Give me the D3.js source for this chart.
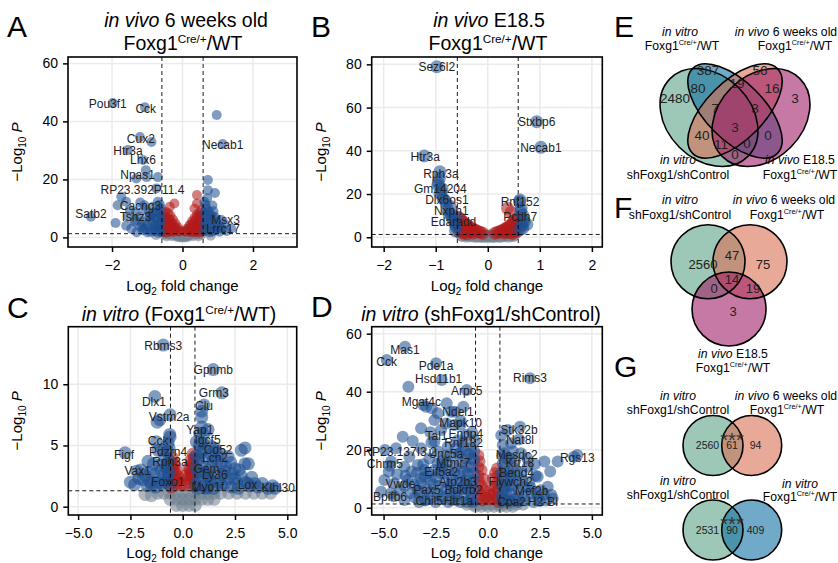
<!DOCTYPE html>
<html>
<head>
<meta charset="utf-8">
<script src="https://cdn.jsdelivr.net/npm/d3@7"></script>
<style>
body { margin: 0; background: #fff; }
text { font-family: "Liberation Sans", Arial, Helvetica, sans-serif; }
</style>
</head>
<body>
<script>
"use strict";
// cutoffs used by the volcano plots
const fcCut = 0.585, pCut = 1.3;

// ---- panel A: in vivo 6 weeks old ----
const aXTicks = [-2, 0, 2], aYTicks = [0, 20, 40, 60];
const aGenes = [["Pou3f1",-1.98,46.3],["Cck",-1.07,44.9],["Cux2",-1.21,34.6],["Htr3a",-1.55,30.1],["Necab1",1.14,32.2],["Lhx6",-1.12,26.7],["Npas1",-1.02,20.8],["RP23.392P11.4",-0.74,16.9],["Cacng3",-1.08,11.1],["Satb2",-2.6,7.1],["Tshz3",-0.94,7.1],["Msx3",0.91,7.1],["Lrrc17",1.09,3.2]];
const aPts = [
 [-0.55,1.0],[-0.47,0.9],[-0.40,1.1],[-0.33,1.0],[-0.26,0.9],[-0.20,0.7],[-0.14,0.5],[-0.08,0.3],[0.00,0.1],[0.08,0.3],[0.14,0.5],[0.20,0.7],[0.26,0.9],[0.33,1.0],[0.40,1.1],[0.47,0.9],[0.55,1.0],[-0.45,0.3],[-0.30,0.4],[-0.15,0.1],[0.15,0.1],[0.30,0.4],[0.45,0.3],[-0.05,0.0],[0.05,0.0],[-0.75,0.8],[0.80,0.6],
 [-0.36,10.6],[-0.23,11.7],[0.41,14.6],[0.41,11.7],[0.34,10.0],
 [-0.55,8.5],[-0.48,8.8],[-0.41,8.3],[-0.34,7.5],[-0.27,6.2],[-0.20,4.8],[-0.13,3.5],[-0.07,2.3],[-0.55,6.0],[-0.48,5.5],[-0.41,5.0],[-0.34,4.5],[-0.27,3.5],[-0.20,2.5],[-0.55,3.5],[-0.48,2.8],[-0.41,2.2],[-0.34,2.0],[-0.55,1.8],[-0.45,1.6],
 [-0.50,7.0],[-0.42,6.6],[-0.36,6.0],[-0.30,5.0],[-0.24,4.0],[-0.16,3.0],[-0.10,2.0],[-0.50,4.2],[-0.44,3.5],[-0.38,3.0],[-0.30,2.6],[-0.24,2.0],
 [0.55,9.5],[0.48,8.6],[0.41,7.8],[0.34,6.8],[0.27,5.6],[0.20,4.3],[0.13,3.1],[0.07,2.1],[0.55,6.5],[0.48,5.7],[0.41,4.8],[0.34,3.8],[0.27,2.8],[0.20,2.1],[0.55,3.5],[0.48,2.8],[0.41,2.2],[0.34,1.8],[0.55,1.8],[0.45,1.6],
 [0.50,7.5],[0.44,7.0],[0.38,6.2],[0.30,5.0],[0.24,4.0],[0.16,3.0],[0.10,2.0],[0.50,4.5],[0.44,3.8],[0.38,3.0],[0.30,2.4],[0.24,1.8],
 [0.97,42.2],[-0.88,32.9],[-1.04,23.2],[-0.70,20.8],[0.72,19.8],[0.72,16.3],[0.92,15.3],[-1.31,20.3],[-1.74,14.0],[-1.84,11.1],[-1.60,12.3],[-1.32,8.8],[-0.84,10.6],[-0.70,12.3],[-0.70,8.8],[-0.89,6.0],[-1.13,5.4],[-1.36,5.4],[-1.08,3.1],[-0.80,3.1],[-0.65,4.8],[-0.65,2.5],[-0.89,1.9],[-0.61,7.1],[-0.76,6.6],[-1.55,7.1],[-1.22,7.1],[-1.12,2.5],[-1.35,6.0],[-0.62,10.0],[-0.62,5.5],[-0.62,2.0],[-0.75,9.0],[-0.78,4.0],[-0.95,8.5],[-1.00,4.5],[-1.20,3.5],[-1.45,3.0],[-1.00,1.8],[-1.30,1.8],[-0.70,1.6],[-1.60,4.0],[-1.90,5.0],[-1.50,9.5],[-1.20,12.0],
 [-0.68,3.5],[-0.72,6.0],[-0.66,8.0],[-0.82,8.0],[-0.86,5.0],[-0.94,3.0],[-0.70,4.2],[-0.80,2.2],[-1.15,4.2],[-0.92,7.2],[-1.05,9.6],[-0.64,11.3],
 [0.67,10.0],[0.67,6.6],[0.81,7.7],[0.95,5.4],[0.72,3.7],[0.91,2.5],[1.19,4.8],[1.38,3.1],[0.62,12.3],[0.62,8.5],[0.62,5.0],[0.62,2.2],[0.75,9.0],[0.78,4.5],[0.85,2.0],[1.00,3.5],[1.05,2.0],[1.25,2.2],[0.70,13.5],[0.85,11.0],
 [0.68,2.8],[0.70,5.2],[0.72,8.0],[0.80,6.2],[0.84,3.3],[0.88,9.0],[0.95,4.0],[0.66,11.2],[0.76,1.8],[1.12,3.0],[0.90,6.5],[1.10,6.0]
];

// ---- panel B: in vivo E18.5 ----
const bXTicks = [-2, -1, 0, 1, 2], bYTicks = [0, 20, 40, 60, 80];
const bGenes = [["Sez6l2",-0.98,78.9],["Stxbp6",0.94,53.5],["Necab1",1.02,41.6],["Htr3a",-1.22,37.6],["Rph3a",-0.92,30.3],["Gm14204",-0.95,25.2],["Dlx6os1",-0.92,20.3],["Nxph1",-0.72,14.2],["Edaradd",-0.60,9.5],["Rnf152",0.62,17.2],["Pcdh7",0.68,8.0]];
const bPts = [
 [-0.44,1.2],[-0.36,1.0],[-0.28,0.9],[-0.20,0.8],[-0.12,0.7],[-0.04,0.7],[0.04,0.7],[0.12,0.7],[0.20,0.8],[0.28,0.9],[0.36,1.0],[0.44,1.2],[-0.40,0.5],[-0.24,0.4],[-0.08,0.3],[0.08,0.3],[0.24,0.4],[0.40,0.5],[0.50,1.1],[-0.50,1.1],
 [-0.32,0.7],[-0.16,0.5],[0.00,0.5],[0.16,0.5],[0.32,0.7],[-0.48,0.8],[0.48,0.8],
 [-0.55,9.0],[-0.50,7.5],[-0.42,6.0],[-0.34,4.6],[-0.26,3.5],[-0.18,2.6],[-0.10,1.9],[-0.55,5.5],[-0.48,4.2],[-0.40,3.2],[-0.32,2.4],[-0.55,2.5],[-0.47,2.0],[-0.40,1.6],
 [-0.52,8.3],[-0.46,6.8],[-0.38,5.3],[-0.30,4.0],[-0.22,3.0],[-0.14,2.2],[-0.52,4.8],[-0.44,3.6],[-0.36,2.8],[-0.28,2.0],[-0.50,3.2],[-0.44,2.4],
 [0.55,8.5],[0.50,7.0],[0.44,5.5],[0.37,4.3],[0.30,3.3],[0.22,2.5],[0.14,1.9],[0.55,5.0],[0.48,3.8],[0.40,2.8],[0.32,2.0],[0.55,2.5],[0.48,1.8],[0.38,13.4],[0.45,11.5],
 [0.52,7.8],[0.47,6.2],[0.40,4.9],[0.33,3.8],[0.26,2.9],[0.18,2.2],[0.52,4.4],[0.44,3.3],[0.36,2.4],[0.50,3.2],[0.44,2.2],
 [-0.93,27.3],[-0.96,24.2],[-0.90,21.1],[-0.86,18.0],[-0.80,15.7],[-0.77,12.6],[-0.70,10.3],[-0.64,7.2],[-0.61,4.9],[-0.88,22.5],[-0.82,17.0],[-0.75,11.0],[-0.68,8.5],[-0.62,6.0],[-0.62,3.0],
 [0.61,16.5],[0.64,13.4],[0.67,10.3],[0.70,7.2],[0.67,4.2],[0.61,3.4],[0.63,11.8],[0.66,5.5],[0.75,6.0]
];

// ---- panel C: in vitro Foxg1 Cre/+ vs WT ----
const cXTicks = [-5, -2.5, 0, 2.5, 5], cYTicks = [0, 5, 10];
const cGenes = [["Rbms3",-0.93,13.2],["Gpnmb",1.46,11.2],["Grm3",1.87,9.3],["Dlx1",-1.33,9.0],["Clu",1.02,8.3],["Vstm2a",-0.60,7.5],["Yap1",0.91,6.5],["Cck",-0.60,5.7],["Igcf5",0.95,5.2],["Figf",-2.76,4.4],["Pdzrn4",-0.70,4.5],["Cd52",1.60,4.5],["Lcn2",1.45,3.8],["Rph3a",-0.75,3.5],["Vax1",-2.20,2.9],["Gem",1.00,2.8],["Ly86",1.30,2.2],["Foxo1",-1.00,1.9],["Myo1f",1.20,1.6],["Lox",3.10,1.9],["Klhl30",4.42,1.5]];
const cPts = [
 [-1.2,1.1],[-0.9,1.1],[-0.6,1.1],[-0.3,1.1],[0,1.1],[0.3,1.1],[0.6,1.1],[0.9,1.1],[1.2,1.1],[1.5,1.1],[1.8,1.1],[2.2,1.1],[2.6,1.1],[3.0,1.1],[3.4,1.1],[3.8,1.1],[4.2,1.1],
 [-0.6,0.6],[-0.3,0.6],[0,0.6],[0.3,0.6],[0.6,0.6],[0.9,0.6],[1.2,0.6],[1.5,0.6],[-0.3,0.1],[0,0.1],[0.3,0.1],[0.6,0.1],[-1.5,0.9],[-1.8,1.0],
 [-0.50,4.0],[-0.40,3.5],[-0.30,3.0],[-0.20,2.4],[-0.50,3.0],[-0.40,2.4],[-0.50,2.0],[-0.30,1.9],[-0.55,1.6],[-0.10,1.8],
 [0.50,4.3],[0.40,3.8],[0.30,3.2],[0.20,2.6],[0.50,3.3],[0.40,2.7],[0.50,2.3],[0.30,2.0],[0.55,1.7],[0.10,1.8],
 [-0.45,3.2],[-0.35,2.7],[-0.25,2.1],[-0.45,2.2],[0.45,3.5],[0.35,3.0],[0.25,2.3],[0.45,2.5],[-0.55,3.6],[0.55,4.0],
 [-1.09,7.1],[0.91,7.8],[0.91,7.3],[1.00,5.9],[-1.22,6.9],[-0.62,5.9],[-1.26,5.3],[0.65,5.3],[1.21,6.3],[2.80,4.6],[2.97,3.5],[1.85,3.5],[2.00,2.9],[2.49,2.3],[3.44,1.9],[4.08,1.5],[-1.66,3.7],[-1.90,2.2],[-1.50,1.8],[-1.18,4.6],[-1.02,3.0],[-0.70,2.6],[-0.86,4.0],[0.89,4.4],[0.89,3.3],[0.73,2.2],[1.37,2.0],[1.85,1.8],[2.33,1.6],[2.65,1.5],[2.49,3.1],[2.17,4.1],[1.53,4.8],[0.81,6.0],[2.98,4.8],[3.14,3.5],
 [-0.65,4.8],[-0.65,3.8],[-0.65,2.8],[-0.65,1.8],[-0.85,2.0],[-1.20,2.0],[-1.35,2.6],[-1.55,2.8],[-2.00,3.0],[-1.70,1.7],[-2.30,1.8],
 [-0.75,2.2],[-0.95,2.5],[-1.10,3.4],[-1.40,3.5],[-1.30,1.6],[-1.80,2.6],[-2.10,2.3],[-0.80,3.2],[-0.95,4.6],[-0.70,5.2],[-1.55,2.0],[-2.50,2.0],
 [0.65,4.2],[0.65,3.2],[0.65,1.8],[0.80,5.0],[1.10,4.0],[1.20,3.0],[1.60,2.7],[1.05,1.8],[1.50,1.5],[2.20,2.3],[2.80,2.5],[3.30,2.4],[3.60,1.6],[1.90,2.6],[2.60,1.9],[1.30,5.0],[1.80,4.3],[2.30,3.6],
 [0.75,2.8],[0.95,2.5],[1.25,2.5],[1.40,3.3],[1.70,2.0],[2.00,1.9],[2.35,2.7],[2.70,3.0],[3.00,2.0],[3.20,1.7],[0.75,3.8],[1.00,4.7],[1.35,4.3],[1.65,3.8],[2.05,3.3],[3.80,1.9],[4.30,1.7],[0.70,1.5],[1.15,1.5]
];

// ---- panel D: in vitro shFoxg1 vs shControl ----
const dXTicks = [-5, -2.5, 0, 2.5, 5], dYTicks = [0, 20, 40, 60];
const dGenes = [["Mas1",-3.97,55.5],["Cck",-4.85,50.9],["Pde1a",-2.48,49.8],["Hsd11b1",-2.21,44.0],["Rims3",2.03,44.6],["Arpc5",-1.01,40.6],["Mgat4c",-3.09,35.4],["Ndel1",-1.57,33.1],["Mapk10",-1.30,28.5],["Stk32b",1.55,27.9],["Tal1",-2.70,22.5],["Enpp4",-1.20,22.5],["Nat8l",1.50,23.5],["Rnf182",-1.40,18.5],["RP23.137I3.2",-4.93,19.9],["Rgs13",4.30,18.2],["Mesdc2",1.10,17.0],["Unc5a",-2.20,16.0],["Chrm5",-4.70,14.5],["Krt18",1.20,14.0],["Mtmr7",-1.90,13.0],["Bend4",1.10,11.0],["Eif5a2",-3.00,10.5],["Atp2b3",-1.00,8.0],["Flywch2",1.00,7.5],["Vwde",-4.00,7.5],["Pax5",-3.30,5.0],["Bdkrb2",-1.60,5.0],["Mef2b",2.30,5.5],["Bpifb6",-4.50,4.0],["Chil5",-3.00,2.5],["Htr1a",-1.50,2.5],["Cpa2",1.00,2.5],["H2-Bl",2.50,2.3]];
const dPts = [
 [-1.0,1.0],[-0.7,1.0],[-0.4,1.0],[-0.1,1.0],[0.2,1.0],[0.5,1.0],[0.8,1.0],[1.1,1.0],[1.4,1.0],[1.7,1.0],[-0.6,0.3],[-0.3,0.3],[0,0.3],[0.3,0.3],[0.6,0.3],[0.9,0.3],[1.2,0.3],
 [-0.45,18],[-0.40,16],[-0.45,14],[-0.30,13],[-0.45,11],[-0.20,10],[-0.40,9],[-0.30,7.5],[-0.45,6],[-0.15,6],[-0.30,4.5],[-0.45,3],[-0.10,3.5],[-0.25,2.5],
 [0.45,13.5],[0.35,12],[0.50,11],[0.25,10],[0.45,8.5],[0.35,7],[0.15,7],[0.50,6],[0.30,5],[0.10,4.5],[0.45,3.5],[0.25,3],[0.05,2.8],[0.50,2],
 [-3.81,41.7],[-2.69,34.3],[-1.97,36.0],[-1.17,34.8],[-4.08,24.5],[-3.20,27.4],[-2.56,30.2],[-2.96,34.8],[-2.40,32.6],[-1.76,33.1],[-1.60,28.5],[-2.24,26.8],[-2.56,22.8],[-1.04,25.1],[-0.80,20.5],[-1.44,23.3],[-1.92,21.0],[-3.20,20.5],[-3.76,17.6],[-4.64,15.9],[-4.00,14.1],[-3.36,14.7],[-4.96,9.6],[-4.48,8.4],[-3.84,9.6],[-4.64,5.0],[-5.12,5.5],[-3.68,5.0],[-3.20,8.4],[-2.88,11.9],[-2.40,15.3],[-1.76,17.6],[-1.28,15.3],[-0.96,11.9],[-0.80,8.4],[-1.12,5.0],[-1.76,8.4],[-2.08,11.9],[-2.40,5.0],[-3.04,2.7],[-1.76,2.7],[-0.80,2.7],[-4.00,2.7],[-0.64,16.4],[-0.64,11.9],[-0.64,6.1],[-0.64,23.3],
 [-1.30,9.0],[-2.60,8.0],[-3.40,12.0],[-1.00,14.0],[-1.60,12.0],[-2.20,14.0],[-2.80,17.0],[-1.30,19.0],[-2.00,18.0],[-0.80,17.0],[-1.50,4.0],[-2.20,3.0],[-2.80,5.5],[-3.50,3.5],[-0.70,9.5],[-1.20,6.5],[-2.00,6.5],[-2.50,10.5],[-0.80,4.0],[-3.10,15.0],
 [-0.70,2.0],[-0.90,6.0],[-1.05,9.5],[-1.15,12.5],[-0.75,14.0],[-0.90,18.5],[-1.15,21.0],[-1.35,11.0],[-1.45,7.0],[-1.55,14.0],[-1.70,10.0],[-1.80,5.5],[-1.95,15.5],[-2.05,9.0],[-2.15,4.0],[-2.30,12.0],[-2.35,7.5],[-2.55,13.0],[-2.65,3.5],[-2.75,9.5],[-2.95,6.5],[-3.05,13.0],[-3.25,10.0],[-3.35,6.0],[-3.55,8.0],[-3.65,12.5],[-3.95,11.0],[-4.20,6.0],[-4.35,11.5],[-4.75,12.5],[-1.00,2.0],[-1.30,2.0],[-1.90,2.0],[-2.50,2.0],[-3.30,2.0],[-0.65,19.5],[-1.05,17.0],[-1.55,20.5],[-2.40,19.5],[-0.75,26.0],[-1.30,30.0],[-2.00,29.0],[-2.75,26.0],[-3.60,23.0],[-4.40,20.5],
 [0.96,26.8],[1.12,22.2],[0.80,18.8],[1.60,18.8],[3.36,15.9],[2.72,15.9],[4.14,17.6],[0.80,14.1],[1.92,14.1],[2.40,10.7],[1.12,10.7],[0.80,7.2],[1.76,7.2],[2.88,7.2],[2.40,3.8],[1.44,3.8],[0.80,3.2],[3.12,3.2],[0.72,21.6],[0.72,10.7],[0.72,15.3],
 [1.00,12.5],[1.40,9.0],[0.65,12.0],[0.65,8.0],[0.65,4.0],[1.10,5.0],[2.00,9.0],[1.60,12.0],[2.10,5.0],[1.80,2.5],[2.70,4.5],[0.90,17.0],[1.30,16.0],
 [0.70,2.0],[0.90,4.5],[0.75,6.0],[0.95,9.0],[1.20,7.5],[1.30,3.0],[1.50,6.0],[1.65,9.5],[1.75,4.0],[2.05,7.0],[2.20,2.0],[2.30,11.0],[2.55,6.0],[2.80,2.5],[1.05,2.0],[1.45,2.0],[0.70,18.0],[1.20,19.5],[1.90,17.0],[2.25,15.0],[3.00,12.5],[3.05,4.5],[1.40,12.5],[0.65,25.0]
];

// ---- Venn counts ----
const eCounts = [2480, 387, 56, 3, 80, 19, 16, 7, 3, 3, 40, 0, 11, 0, 0];
const fCounts = [2560, 47, 75, 14, 0, 19, 3];
const g1Counts = [2560, 61, 94];
const g2Counts = [2531, 90, 409];

// ---------- layout / style (not data) ----------
const W = 838, H = 563;
const colBlue = "#1d4e91", colRed = "#b31b1b", colGrey = "#708090";
const vGreen = "#5ca287", vBlue = "#1171a3", vSalmon = "#d96f55", vPink = "#a02068";
const FONT = 14;

const svg = d3.select("body").append("svg").attr("width", W).attr("height", H)
  .style("background", "#fff");

function rich(parent, x, y, parts, size, anchor) {
  const t = parent.append("text").attr("x", x).attr("y", y)
    .attr("text-anchor", anchor || "middle").attr("font-size", size).attr("fill", "#000");
  parts.forEach(p => {
    const s = t.append("tspan").text(p.t);
    if (p.i) s.attr("font-style", "italic");
    if (p.s) s.attr("font-size", p.s);
    if (p.dy) s.attr("dy", p.dy);
  });
  return t;
}
function foxg1(size) {
  return [{t: "Foxg1"}, {t: "Cre/+", s: size * 0.6, dy: -size * 0.38}, {t: "/WT", s: size, dy: size * 0.38}];
}

function volcano(p) {
  const g = svg.append("g");
  const sx = d3.scaleLinear().domain(p.xd).range([p.L, p.R]);
  const sy = d3.scaleLinear().domain(p.yd).range([p.B, p.T]);
  const id = "clip" + p.key;
  svg.append("clipPath").attr("id", id).append("rect")
    .attr("x", p.L).attr("y", p.T).attr("width", p.R - p.L).attr("height", p.B - p.T);

  // grid
  g.selectAll(".gx").data(p.xt).join("line")
    .attr("x1", d => sx(d)).attr("x2", d => sx(d)).attr("y1", p.T).attr("y2", p.B)
    .attr("stroke", "#ebebeb").attr("stroke-width", 1.5);
  g.selectAll(".gy").data(p.yt).join("line")
    .attr("x1", p.L).attr("x2", p.R).attr("y1", d => sy(d)).attr("y2", d => sy(d))
    .attr("stroke", "#ebebeb").attr("stroke-width", 1.5);

  // points
  const all = p.pts.map(d => ({x: d[0], y: d[1]}))
    .concat(p.genes.map(d => ({x: d[1], y: d[2], name: d[0]})));
  const cat = d => d.y < pCut ? 0 : (Math.abs(d.x) > fcCut ? 2 : 1);
  all.sort((a, b) => cat(a) - cat(b));
  const colours = [colGrey, colRed, colBlue];
  g.append("g").attr("clip-path", `url(#${id})`)
    .selectAll("circle").data(all).join("circle")
    .attr("cx", d => sx(d.x)).attr("cy", d => sy(d.y)).attr("r", p.r)
    .attr("fill", d => colours[cat(d)]).attr("fill-opacity", 0.56);

  // cutoff lines
  const cl = g.append("g").attr("stroke", "#000").attr("stroke-width", 0.9).attr("stroke-dasharray", "4,3");
  [-fcCut, fcCut].forEach(v => cl.append("line").attr("x1", sx(v)).attr("x2", sx(v)).attr("y1", p.T).attr("y2", p.B));
  cl.append("line").attr("x1", p.L).attr("x2", p.R).attr("y1", sy(pCut)).attr("y2", sy(pCut));

  // labels
  g.append("g").selectAll("text").data(p.genes).join("text")
    .attr("x", d => sx(d[1]) + (p.nudge[d[0]] || [0, 0])[0])
    .attr("y", d => sy(d[2]) + (p.nudge[d[0]] || [0, 0])[1])
    .attr("dy", "0.35em").attr("text-anchor", "middle")
    .attr("font-size", 12).attr("fill", "#222").text(d => d[0]);

  // axes
  const ax = g.append("g").attr("transform", `translate(0,${p.B})`)
    .call(d3.axisBottom(sx).tickValues(p.xt).tickFormat(d3.format(p.xf)).tickSize(5).tickPadding(8));
  const ay = g.append("g").attr("transform", `translate(${p.L},0)`)
    .call(d3.axisLeft(sy).tickValues(p.yt).tickFormat(d3.format("d")).tickSize(5).tickPadding(5));
  [ax, ay].forEach(a => {
    a.select(".domain").remove();
    a.selectAll("line").attr("stroke", "#000").attr("stroke-width", 1.5);
    a.selectAll("text").attr("font-size", FONT).attr("fill", "#000")
      .attr("font-family", "'Liberation Sans', Arial, sans-serif");
  });

  g.append("rect").attr("x", p.L).attr("y", p.T).attr("width", p.R - p.L).attr("height", p.B - p.T)
    .attr("fill", "none").attr("stroke", "#000").attr("stroke-width", 1.6);

  // axis titles
  rich(g, (p.L + p.R) / 2, p.xTitleY, [{t: "Log"}, {t: "2", s: 10, dy: 4}, {t: " fold change", s: 15, dy: -4}], 15);
  rich(g, 0, 0, [{t: "\u2212Log"}, {t: "10", s: 10, dy: 4}, {t: " "}, {t: "P", i: true, dy: -4, s: 15}], 15)
    .attr("transform", `translate(${p.L - 46},${(p.T + p.B) / 2}) rotate(-90)`);
}

volcano({key: "A", L: 68, R: 297, T: 57, B: 247, xd: [-3.25, 3.25], yd: [-3.3, 62.2], r: 5,
  xt: aXTicks, yt: aYTicks, xf: "d", pts: aPts, genes: aGenes, xTitleY: 291,
  nudge: {Pou3f1: [-5, 1], Cck: [1, 2], Cux2: [1, 2], Htr3a: [0, 1], Necab1: [0, 1], Lhx6: [0, 0], Npas1: [-9, -2], "RP23.392P11.4": [-14, 1], Cacng3: [-4, 1], Satb2: [0, -3], Tshz3: [-14, 0], Msx3: [11, 3], Lrrc17: [2, 1]}});
volcano({key: "B", L: 371.7, R: 602.3, T: 57, B: 247, xd: [-2.23, 2.2], yd: [-4.5, 83.4], r: 6.5,
  xt: bXTicks, yt: bYTicks, xf: "d", pts: bPts, genes: bGenes, xTitleY: 291,
  nudge: {Htr3a: [1, 1], Rph3a: [1, 2], Gm14204: [2, 6], Dlx6os1: [7, 6], Nxph1: [1, 4], Edaradd: [-3, 5], Rnf152: [0, 2], Pcdh7: [-3, -3]}});
volcano({key: "C", L: 68.3, R: 296.7, T: 326.7, B: 515, xd: [-5.47, 5.45], yd: [-0.68, 14.7], r: 6.5,
  xt: cXTicks, yt: cYTicks, xf: ".1f", pts: cPts, genes: cGenes, xTitleY: 558,
  nudge: {Rbms3: [0, 1], Grm3: [-8, 0], Dlx1: [-1, 5], Clu: [0, 1], Vstm2a: [-1, 2], Yap1: [-2, 3], Cck: [-12, 4], Igcf5: [5, -3], Figf: [-1, 2], Cd52: [2, -2], Lcn2: [2, -2], Rph3a: [3, -2], Vax1: [1, 0], Gem: [3, -4], Ly86: [5, -5], Foxo1: [6, -2], Lox: [0, 1.5], Klhl30: [3, -1]}});
volcano({key: "D", L: 371.7, R: 602.3, T: 326.7, B: 515, xd: [-5.57, 5.5], yd: [-2.5, 62.4], r: 6,
  xt: dXTicks, yt: dYTicks, xf: ".1f", pts: dPts, genes: dGenes, xTitleY: 558,
  nudge: {Mas1: [0, 3], Cck: [0, 2], Pde1a: [0, 3], Hsd11b1: [-3, -1], Rims3: [0, -1], Arpc5: [0, 1], Mgat4c: [-2, -3], Ndel1: [3, 0], Mapk10: [0, -2], Stk32b: [-1, 3], Tal1: [5, -7], Enpp4: [3, -9], Nat8l: [1, 0], Rnf182: [5, -11], "RP23.137I3.2": [15, 2], Rgs13: [0, 3], Mesdc2: [6, -4], Unc5a: [4, -8], Chrm5: [-5, -2], Krt18: [7, -4], Mtmr7: [5, -7], Bend4: [6, -3], Eif5a2: [16, -5], Atp2b3: [-9, -3], Flywch2: [2, -4], Vwde: [-4, -2], Pax5: [8, -3], Bdkrb2: [9, -3], Mef2b: [-4, -1], Bpifb6: [-4, 1], Chil5: [4, 0], Htr1a: [2, 0], Cpa2: [3, 1], "H2-Bl": [3, 1]}});

// panel titles
rich(svg, 186, 27, [{t: "in vivo", i: true}, {t: " 6 weeks old"}], 19.5);
rich(svg, 183, 50, foxg1(19.5), 19.5);
rich(svg, 489, 27, [{t: "in vivo", i: true}, {t: " E18.5"}], 19.5);
rich(svg, 488, 50, foxg1(19.5), 19.5);
rich(svg, 179, 321, [{t: "in vitro", i: true}, {t: " ("}].concat(foxg1(19.5)).concat([{t: ")"}]), 19.5);
rich(svg, 481, 321, [{t: "in vitro", i: true}, {t: " (shFoxg1/shControl)"}], 19.5);

// panel letters
[["A", 7, 37], ["B", 311, 37], ["C", 7, 318], ["D", 311, 317], ["E", 614, 37], ["F", 614, 218], ["G", 614, 377]]
  .forEach(d => svg.append("text").attr("x", d[1]).attr("y", d[2]).attr("font-size", 30).text(d[0]));

// ---------- Venn E ----------
const eG = svg.append("g");
const ell = [
  {cx: 709, cy: 117.5, rx: 55, ry: 42, rot: 45, c: vGreen},
  {cx: 735, cy: 111, rx: 60, ry: 29, rot: 45, c: vBlue},
  {cx: 735, cy: 111, rx: 60, ry: 29, rot: -45, c: vSalmon},
  {cx: 761, cy: 117.5, rx: 55, ry: 42, rot: -45, c: vPink}
];
ell.forEach(e => eG.append("ellipse").attr("cx", e.cx).attr("cy", e.cy).attr("rx", e.rx).attr("ry", e.ry)
  .attr("transform", `rotate(${e.rot},${e.cx},${e.cy})`).attr("fill", e.c).attr("fill-opacity", 0.6));
ell.forEach(e => eG.append("ellipse").attr("cx", e.cx).attr("cy", e.cy).attr("rx", e.rx).attr("ry", e.ry)
  .attr("transform", `rotate(${e.rot},${e.cx},${e.cy})`).attr("fill", "none").attr("stroke", "#000").attr("stroke-width", 1.6));
const ePos = [[675, 98], [708, 70], [760, 70], [795, 98], [698, 88], [737, 83], [772, 88], [715, 108], [755, 108], [735, 127], [702, 135], [768, 135], [721, 144], [747, 143], [735, 154]];
eCounts.forEach((n, i) => eG.append("text").attr("x", ePos[i][0]).attr("y", ePos[i][1]).attr("dy", "0.36em")
  .attr("text-anchor", "middle").attr("font-size", 13.5).attr("fill", "#222").text(n));
const LS = 12.2;
rich(svg, 680, 36, [{t: "in vitro", i: true}], LS);
rich(svg, 682, 50, foxg1(LS), LS);
rich(svg, 786, 36, [{t: "in vivo", i: true}, {t: " 6 weeks old"}], LS);
rich(svg, 795, 50, foxg1(LS), LS);
rich(svg, 678, 164, [{t: "in vitro", i: true}], LS);
rich(svg, 678, 179, [{t: "shFoxg1/shControl"}], LS);
rich(svg, 800, 164, [{t: "in vivo", i: true}, {t: " E18.5"}], LS);
rich(svg, 800, 179, foxg1(LS), LS);

// ---------- Venn F ----------
const fG = svg.append("g");
const circF = [{cx: 708, cy: 261.7, r: 37, c: vGreen}, {cx: 750, cy: 261.7, r: 37, c: vSalmon}, {cx: 729, cy: 309, r: 37, c: vPink}];
circF.forEach(e => fG.append("circle").attr("cx", e.cx).attr("cy", e.cy).attr("r", e.r).attr("fill", e.c).attr("fill-opacity", 0.6));
circF.forEach(e => fG.append("circle").attr("cx", e.cx).attr("cy", e.cy).attr("r", e.r).attr("fill", "none").attr("stroke", "#000").attr("stroke-width", 1.6));
const fPos = [[703, 264], [732, 255], [763, 264], [732, 279], [714, 288], [753, 288], [733, 311]];
fCounts.forEach((n, i) => fG.append("text").attr("x", fPos[i][0]).attr("y", fPos[i][1]).attr("dy", "0.36em")
  .attr("text-anchor", "middle").attr("font-size", 13).attr("fill", "#222").text(n));
rich(svg, 680, 204, [{t: "in vitro", i: true}], LS);
rich(svg, 680, 219, [{t: "shFoxg1/shControl"}], LS);
rich(svg, 784, 204, [{t: "in vivo", i: true}, {t: " 6 weeks old"}], LS);
rich(svg, 787, 219, foxg1(LS), LS);
rich(svg, 733, 358, [{t: "in vivo", i: true}, {t: " E18.5"}], LS);
rich(svg, 733, 372, foxg1(LS), LS);

// ---------- Venn G ----------
function pair(cy, c2, counts) {
  const gg = svg.append("g");
  const cs = [{cx: 713, c: vGreen}, {cx: 751.7, c: c2}];
  cs.forEach(e => gg.append("circle").attr("cx", e.cx).attr("cy", cy).attr("r", 30).attr("fill", e.c).attr("fill-opacity", 0.6));
  cs.forEach(e => gg.append("circle").attr("cx", e.cx).attr("cy", cy).attr("r", 30).attr("fill", "none").attr("stroke", "#000").attr("stroke-width", 1.6));
  [707.5, 732, 755.5].forEach((x, i) => gg.append("text").attr("x", x).attr("y", cy).attr("dy", "0.36em")
    .attr("text-anchor", "middle").attr("font-size", 10.5).attr("fill", "#222").text(counts[i]));
  gg.append("text").attr("x", 732).attr("y", cy + 1).attr("text-anchor", "middle")
    .attr("font-size", 20).attr("fill", "#333").text("***");
}
pair(445.5, vSalmon, g1Counts);
pair(530, vBlue, g2Counts);
rich(svg, 678, 400, [{t: "in vitro", i: true}], LS);
rich(svg, 678, 414, [{t: "shFoxg1/shControl"}], LS);
rich(svg, 786, 400, [{t: "in vivo", i: true}, {t: " 6 weeks old"}], LS);
rich(svg, 787, 414, foxg1(LS), LS);
rich(svg, 678, 485, [{t: "in vitro", i: true}], LS);
rich(svg, 678, 499, [{t: "shFoxg1/shControl"}], LS);
rich(svg, 800, 488, [{t: "in vitro", i: true}], LS);
rich(svg, 800, 501, foxg1(LS), LS);
</script>
</body>
</html>
